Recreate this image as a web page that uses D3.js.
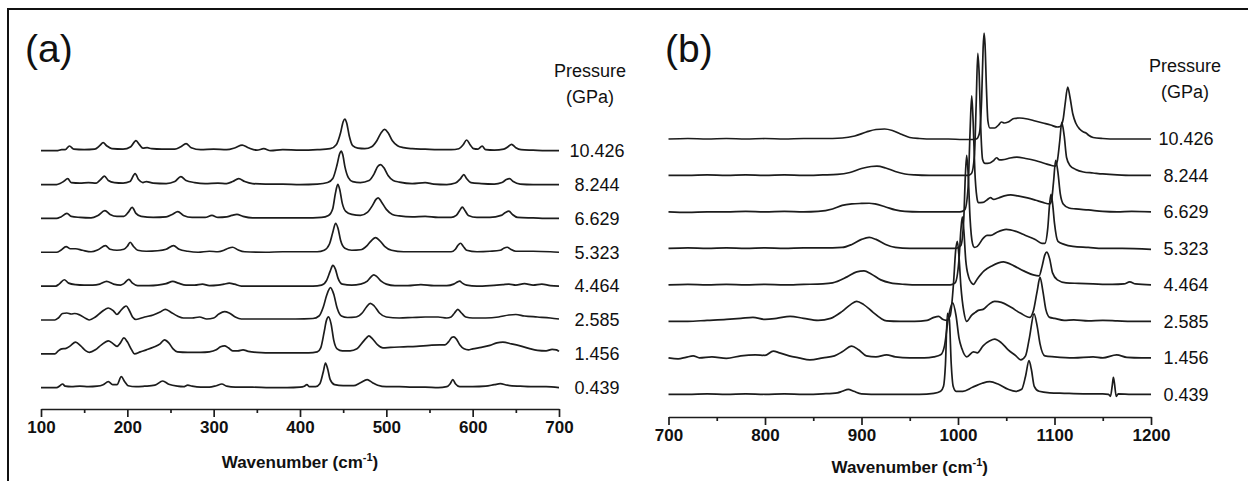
<!DOCTYPE html>
<html><head><meta charset="utf-8">
<script src="https://cdn.jsdelivr.net/npm/d3@7/dist/d3.min.js"></script>
<style>
html,body{margin:0;padding:0;background:#fff;}
svg{display:block;}
text{font-family:"Liberation Sans",Arial,Helvetica,sans-serif;fill:#111;}
</style></head>
<body>
<svg id="chart" width="1248" height="481"></svg>
<script>
// ---------------- DATA ----------------
const pressures = ["10.426","8.244","6.629","5.323","4.464","2.585","1.456","0.439"];
const ticksA = [100,200,300,400,500,600,700];
const minorA = [150,250,350,450,550,650];
const ticksB = [700,800,900,1000,1100,1200];
const minorB = [750,850,950,1050,1150];

// Panel (a): [wavenumber, intensity (a.u.)]
const a10426 = [[100,0],[118,0],[124,1],[128,1],[133,4.7],[138,1.5],[150,1],[162,1.5],[168,5],[172,8],[176,5],[182,2],[195,1.5],[204,4],[210,10],[214,6],[218,2.5],[223,3],[228,2],[240,1.5],[255,1.5],[262,4],[268,7],[274,3],[285,1],[300,1.5],[315,1],[325,3],[333,5.5],[340,3],[350,0.5],[358,2],[366,0],[380,1],[400,0.5],[420,1],[435,2],[442,6],[447,18],[450,29],[452,31.7],[454,28],[457,15],[461,5],[467,2.5],[475,2],[483,4],[489,10],[494,18],[498,21.4],[502,18],[507,10],[513,5],[520,3],[530,2],[545,1.5],[560,1],[575,1],[584,2],[589,6],[593,10.7],[597,6],[601,2],[606,1.5],[611,4.5],[615,1],[625,0.5],[636,1.5],[641,4],[645,6.4],[650,3],[656,1],[670,0.5],[685,0],[700,0]];
const a8244 = [[100,0],[118,0],[122,1],[126,3],[131,6],[135,2],[145,1.5],[155,2],[164,1.5],[169,5],[173.5,8.5],[178,4],[185,2],[195,1.5],[203,3],[209,11],[213,5],[218,2],[222,3],[230,1.5],[245,1],[255,3],[262,8],[268,4],[278,2],[290,1],[305,1.5],[315,1],[322,3],[329,6],[336,3],[345,1],[360,0.5],[380,0.5],[400,0],[420,0.5],[432,2],[438,6],[443,20],[446,31],[447.7,33.5],[449.5,30],[452,18],[456,7],[461,3],[470,2],[480,4],[486,11],[490,18],[493.3,20],[497,17],[502,9],[508,4],[515,2.5],[530,1],[545,2],[555,0.5],[570,0],[580,1.5],[586,6],[589.8,10],[593,6],[598,2],[610,1],[625,0.5],[634,2],[639,5],[642.7,6],[647,3],[655,0.5],[670,0],[690,0],[700,0]];
const a6629 = [[100,0],[118,0],[123,1.5],[130,5],[135,2],[145,1],[158,0.5],[166,3],[174,7.7],[180,4],[188,2],[196,2],[201,6],[205.6,11],[210,5],[216,2],[230,1],[245,1.5],[252,4],[258.5,6.7],[265,3],[275,1],[290,1],[298,3],[305,1],[315,1.5],[321,3],[327,4],[334,2],[345,0.5],[365,0.5],[385,0.5],[405,0.5],[425,1],[433,3],[438,10],[441,25],[443.8,34],[446,29],[449,15],[453,7],[460,4],[470,3],[478,6],[484,13],[488,19],[490.6,20.6],[494,17],[500,9],[507,4],[515,2.5],[530,1.5],[545,2],[560,1],[575,1],[581,3],[585,8],[588,11.3],[591,8],[595,3],[605,1],[620,1],[633,3],[638,6],[642,7.3],[646,4],[652,1],[670,0.5],[690,0],[700,0]];
const a5323 = [[100,0],[118,0],[123,2],[129,5.7],[134,3.5],[140,3.5],[148,2],[158,0.5],[166,2.5],[174.7,6.7],[180,3],[188,2],[196,3],[200,6],[203.3,10],[207,6],[212,2],[222,1],[235,1.5],[245,3],[253.5,6.7],[260,3],[270,1],[282,0],[295,1],[305,0.5],[312,2],[317,4],[322,5],[328,2.5],[336,0.5],[360,0],[380,0.5],[400,0.5],[420,0.5],[428,2],[434,8],[438,20],[441.2,29],[444,24],[447,12],[452,4],[460,2],[470,2.5],[478,7],[483,12],[487.5,14.7],[492,12],[498,6],[506,2],[520,0.5],[540,0.5],[560,0.5],[575,0.5],[580,3],[583,7],[586,9],[589,6],[593,2],[605,0.5],[620,1],[632,2],[636,4],[640,5],[644,3],[650,1],[670,1],[690,0.5],[700,0]];
const a4464 = [[100,0],[117,0],[121,2],[127,6.4],[132,3],[140,1.5],[150,1],[160,1],[168,2],[176,4.7],[184,2],[192,1],[196,2.5],[201.7,6.7],[206,3],[212,0.5],[225,0.5],[235,1],[245,2.5],[252.7,4.7],[259,3],[268,1],[278,1],[287,2],[295,0.5],[305,1],[312,2],[318,3],[324,2],[332,0],[360,0],[390,0],[415,0],[425,1],[431,6],[435,15],[438,20.7],[441,17],[444,8],[449,2],[460,1],[470,2],[478,5],[482,9],[485.5,11.3],[489,9.5],[494,5],[500,2],[510,0.5],[525,0.5],[540,1.5],[555,0.5],[570,0.5],[578,2],[582,4],[585,5],[588,3],[593,1],[605,0],[620,0.5],[635,1.5],[642,2],[650,1],[660,2.5],[670,1],[680,2],[690,0.5],[700,0]];
const a2585 = [[100,0],[116,0],[120,2],[125,6.5],[130,7],[135,6],[139,6.5],[145,5],[152,1.5],[156,0],[163,3],[170,8],[178,12],[184,9],[188,5.5],[192,9],[196,12.7],[198.7,14],[202,10],[206,3],[210,0.5],[220,3],[230,5],[238,8],[244,10.7],[250,8],[258,4],[265,2],[275,2],[283.6,3],[292,1],[300,2],[306,6],[312.6,8.4],[318,7],[325,3],[332,1],[350,1],[370,1],[395,1],[415,1.5],[422,4],[427,13],[431,25],[435.3,32.4],[439,26],[443,12],[448,4],[455,2.5],[465,3],[472,7],[477,13],[481.4,16.7],[486,14],[492,7],[500,3],[515,2],[530,2.5],[545,3],[560,3],[570,2],[575,3],[579,7],[582.8,10.7],[587,7],[592,3],[600,2],[615,2],[630,3],[642,5],[650,5.5],[660,4],[675,3],[690,2],[700,1]];
const a1456 = [[100,0],[116,0],[120,3],[124,5],[129,5.5],[134,8],[140,11.7],[146,8],[152,3],[156,1.5],[163,4],[170,9],[178,13],[183,10.5],[188,7.5],[192,11],[196,16],[200,12],[205,4],[208.3,0],[215,2],[222,4],[230,6.5],[238,10],[243,14],[248,11],[253,5],[258,2],[270,1.5],[285,1.5],[295,2],[303,4],[308,7],[312.6,8],[317,6],[322,3],[328,3],[334,4],[340,2.5],[350,1.5],[370,1],[390,1],[410,1],[420,2],[424,6],[428,22],[430.5,33],[433,37],[436,30],[439,14],[443,5],[449,3],[458,3],[466,5],[472,11],[477,16],[479.7,18],[484,15],[490,9],[496,6],[505,6.5],[520,7],[535,7.5],[550,8.5],[562,9],[568,9],[572,12],[576,16.5],[578.2,17],[581,15],[585,9],[590,5],[595,4],[600,5],[610,6.5],[620,8.5],[628,11],[635,11.7],[645,10],[655,8],[665,5.5],[675,3.5],[685,3],[692,4.5],[697,4],[700,2.5]];
const a0439 = [[100,0],[118,0],[122,2],[125,3.7],[128,1.5],[135,1],[145,1.5],[155,1],[165,1.5],[172,3],[178,6],[183,3],[188,3],[193,11],[197,6],[201,2],[210,1],[220,1.5],[232,2.5],[241,6.7],[248,3.5],[258,1.5],[265,1],[270,2.5],[275,1.5],[285,0.5],[295,0.5],[303,2],[309.5,3.7],[315,1.5],[325,0.5],[345,0.5],[365,0],[385,0],[400,0.5],[405,1.5],[408,3],[411,1],[418,1],[423,4],[427,16],[429.5,24.6],[432,19],[435,8],[440,3],[450,2],[462,2],[470,5],[477.8,8],[484,5],[490,2.5],[500,1],[515,1],[530,0.5],[545,0.5],[560,0],[570,1],[574,4],[577,8],[580,4],[585,1],[600,1],[615,1.5],[625,3],[632,4],[640,2.5],[655,1.5],[670,1],[685,1],[700,0]];

// Panel (b)
const b10426 = [[700,0],[720,0.5],[740,0],[760,0.5],[780,0],[800,0.5],[820,0],[840,0.5],[860,0.5],[880,1],[893,3],[905,7],[915,9.5],[924,10],[932,8.5],[942,4.5],[950,1.5],[960,0.5],[975,0],[990,0],[1005,-0.5],[1015,-0.5],[1019,0],[1022,5],[1024.5,40],[1026,90],[1027,106],[1028,95],[1029.5,50],[1031,18],[1033,11],[1038,11],[1042,14],[1045,17],[1048,16],[1052,17],[1058,20.5],[1064,21],[1072,20],[1080,18],[1088,16],[1096,14],[1103,12],[1106,12.5],[1109,20],[1111,35],[1113.7,52],[1116,42],[1119,25],[1122,16],[1126,10],[1130,7],[1132.3,6.3],[1135,4],[1140,1.5],[1150,0.5],[1165,0],[1180,0],[1200,0]];
const b8244 = [[700,0],[720,0],[740,0.5],[760,0],[780,0.5],[800,0],[820,0.5],[840,0],[860,0.5],[875,1],[888,3],[900,7],[910,9],[916,9.3],[925,7.5],[935,4],[945,1.5],[955,0.5],[970,0],[985,0],[1000,0],[1010,0],[1014,2],[1017,20],[1018.8,70],[1020.5,122],[1022,100],[1023.5,50],[1025.5,16],[1028,12],[1033,12.5],[1037,15],[1040,17.7],[1043,15.5],[1048,16],[1054,17.5],[1061,18.3],[1070,17],[1080,15],[1090,12],[1097,10],[1100.5,9.3],[1103,15],[1105.5,35],[1107.5,53],[1110,40],[1112.5,18],[1116,10],[1122,6],[1130,3.5],[1140,2.5],[1150,1.5],[1165,0.5],[1180,0],[1200,0]];
const b6629 = [[700,0],[720,-0.5],[740,0],[760,0],[780,0.5],[800,0],[820,0.5],[840,0],[855,0.5],[870,3],[880,6.5],[890,8],[900,8.5],[908,8.7],[914,8],[925,5],[935,2],[945,0.5],[960,0],[975,0],[990,0],[1002,0],[1007,2],[1010.5,25],[1012.5,80],[1014.2,116],[1015.7,90],[1017.5,40],[1019.5,15],[1021,9.3],[1026,9.5],[1030,12],[1033.7,14.3],[1037,12.5],[1042,14],[1048,16],[1054.6,17],[1062,16],[1072,14],[1080.5,11.7],[1088,9.5],[1095,8],[1097,12],[1099,30],[1101.2,51.7],[1103.5,40],[1106,18],[1109,8],[1115,4],[1122,3],[1135,2],[1150,0.5],[1165,0],[1180,0.5],[1200,0]];
const b5323 = [[700,0],[720,0.5],[740,0],[760,0.5],[780,0],[800,0.5],[820,0],[840,0.5],[860,0.5],[880,1],[890,4],[900,9],[908,11],[915,9],[925,4],[935,1],[950,0],[970,0],[990,0],[998,0],[1003,3],[1006,30],[1007.5,70],[1009,93],[1010.5,75],[1012.5,30],[1015,5],[1017,1],[1020,2],[1026,10],[1030,13],[1034,13],[1040,16],[1050,19],[1060,17],[1070,13],[1080,9],[1087,5],[1090,5],[1093,20],[1095,45],[1096.4,54],[1098,45],[1100,25],[1103.6,7],[1110,4],[1119,2],[1135,1],[1150,0],[1170,0],[1200,-1]];
const b4464 = [[700,0],[720,0.5],[740,0],[760,0.5],[780,0],[800,0.5],[820,0],[840,0.5],[860,1],[870,2],[885,8],[895,13],[902.6,14],[910,11],[920,5],[930,2],[945,0.5],[960,0],[980,0],[992,0],[997,2],[1001,25],[1003,55],[1004.5,68],[1006,55],[1008,25],[1011,8],[1014,2],[1016,0.5],[1020,6],[1027,14],[1035,19],[1047,23],[1058,19],[1068,14],[1078,10],[1084,9],[1087,18],[1090,30],[1092,32.7],[1095,26],[1098,12],[1103,5],[1112,2],[1125,1.5],[1140,1],[1160,0.5],[1172,1],[1178,3],[1184,1],[1200,0]];
const b2585 = [[700,0],[720,0],[740,1],[760,2],[775,3],[787.5,4],[800,2],[812,3],[826,5],[840,3],[855,1],[868,3],[880,10],[889,17],[895,20],[902,17],[912,9],[920,3],[926,0.5],[940,0],[955,0],[968,1],[975,4],[980,5],[984,2],[988,1],[992,6],[995.5,40],[997.5,70],[999.3,80],[1001,65],[1003,35],[1006,10],[1009,0],[1014,6],[1018,9],[1021,11],[1026,12],[1032,17],[1038,20],[1045,19],[1055,14],[1065,8],[1074.6,4],[1078,10],[1082,30],[1085,44],[1088,30],[1091,12],[1095,4],[1100,3],[1110,1],[1120,1.5],[1135,0.5],[1150,1],[1165,0.5],[1180,0],[1200,0]];
const b1456 = [[700,0],[710,-1],[718,0.5],[725.6,2],[732,0],[745,1],[760,-0.5],[775,2],[790,3],[800,2.5],[808.6,6.7],[815,5],[825,2],[835,0],[846.6,-2],[860,0],[872,2],[880,6],[889.8,11.7],[897,8],[905,2],[915,1],[926,3],[935,1],[950,0],[965,0],[975,1],[982,3],[986,12],[990,40],[994.5,55],[998,42],[1001,20],[1004,9.3],[1009,1],[1016,6],[1020,5],[1026,12],[1033,17],[1038,18.7],[1045,15],[1052,8],[1060,2],[1065,-2],[1070,2],[1074,20],[1078.8,44],[1082,32],[1085,14],[1090,2],[1100,1],[1120,0],[1140,1],[1150,0],[1164.4,3],[1175,0.5],[1190,0],[1200,0]];
const b0439 = [[700,0],[720,0],[740,0.5],[760,0],[780,0.5],[800,0],[820,0.5],[840,0],[860,0.5],[875,1.5],[880,3],[886.3,5],[892,3],[900,0.5],[920,0],[940,0],[960,0],[975,1],[982,3],[985,8],[987,30],[989,81],[991,75],[993,30],[995,8],[998,3],[1005,3],[1015,7],[1025,11],[1033,12.6],[1042,10],[1052,5],[1060,3],[1066,5],[1070,18],[1073.6,33.6],[1076,25],[1079,8],[1084,3],[1095,1.5],[1110,1],[1130,0.5],[1150,0.5],[1156,0],[1158,-2],[1160,10],[1161,17],[1162,12],[1164,-2],[1166,0.5],[1180,0],[1200,0]];

const spectraA = [a10426,a8244,a6629,a5323,a4464,a2585,a1456,a0439];
const spectraB = [b10426,b8244,b6629,b5323,b4464,b2585,b1456,b0439];

// ---------------- DRAW ----------------
const svg = d3.select("#chart");
svg.append("rect").attr("width",1248).attr("height",481).attr("fill","#fff");

// frame
svg.append("line").attr("x1",7).attr("x2",1248).attr("y1",9).attr("y2",9).attr("stroke","#111").attr("stroke-width",2);
svg.append("line").attr("x1",8).attr("x2",8).attr("y1",8).attr("y2",481).attr("stroke","#111").attr("stroke-width",2);

function panel(cfg){
  const x = d3.scaleLinear().domain(cfg.domain).range(cfg.range);
  const base = d3.scalePoint().domain(pressures).range(cfg.baseRange);
  const g = svg.append("g");
  pressures.forEach((p,i)=>{
    const y = d3.scaleLinear().domain([0,100]).range([base(p), base(p)-100]);
    const line = d3.line().x(d=>x(d[0])).y(d=>y(d[1])).curve(d3.curveMonotoneX);
    g.append("path").datum(cfg.spectra[i]).attr("d",line)
      .attr("fill","none").attr("stroke","#1c1c1c").attr("stroke-width",1.7)
      .attr("stroke-linejoin","round");
    g.append("text").attr("x",cfg.labelX).attr("y",base(p)).attr("dy","0.35em")
      .attr("text-anchor","middle").attr("font-size",18).text(p);
  });
  g.append("text").attr("x",cfg.headX).attr("y",cfg.headY).attr("text-anchor","middle").attr("font-size",18).text("Pressure");
  g.append("text").attr("x",cfg.headX).attr("y",cfg.headY+26).attr("text-anchor","middle").attr("font-size",18).text("(GPa)");
  g.append("text").attr("x",cfg.tagX).attr("y",62).attr("font-size",39).text(cfg.tag);

  const ax = g.append("g").attr("transform",`translate(0,${cfg.axisY})`)
    .call(d3.axisBottom(x).tickValues(cfg.ticks).tickSize(8).tickSizeOuter(0).tickPadding(4).tickFormat(d3.format("d")));
  ax.select(".domain").attr("stroke","#1c1c1c").attr("stroke-width",1.7);
  ax.selectAll(".tick line").attr("stroke","#1c1c1c").attr("stroke-width",1.7);
  ax.selectAll(".tick text").attr("font-size",17).attr("font-weight","bold").attr("fill","#111");
  const mx = g.append("g").attr("transform",`translate(0,${cfg.axisY})`)
    .call(d3.axisBottom(x).tickValues(cfg.minor).tickSize(4).tickSizeOuter(0).tickFormat(""));
  mx.select(".domain").remove();
  mx.selectAll(".tick line").attr("stroke","#1c1c1c").attr("stroke-width",1.7);

  const t = g.append("text").attr("x",(cfg.range[0]+cfg.range[1])/2).attr("y",cfg.titleY)
    .attr("text-anchor","middle").attr("font-size",17).attr("font-weight","bold");
  t.append("tspan").text("Wavenumber (cm");
  t.append("tspan").attr("font-size",11).attr("dy",-7).text("-1");
  t.append("tspan").attr("dy",7).text(")");
}

panel({domain:[100,700],range:[41,559],baseRange:[150.7,387.7],spectra:spectraA,
  ticks:ticksA,minor:minorA,axisY:409,titleY:468,labelX:597,headX:590,headY:77,tag:"(a)",tagX:25});
panel({domain:[700,1200],range:[668.5,1151],baseRange:[139,394.3],spectra:spectraB,
  ticks:ticksB,minor:minorB,axisY:417,titleY:473,labelX:1186,headX:1185,headY:72,tag:"(b)",tagX:665});
</script>
</body></html>
